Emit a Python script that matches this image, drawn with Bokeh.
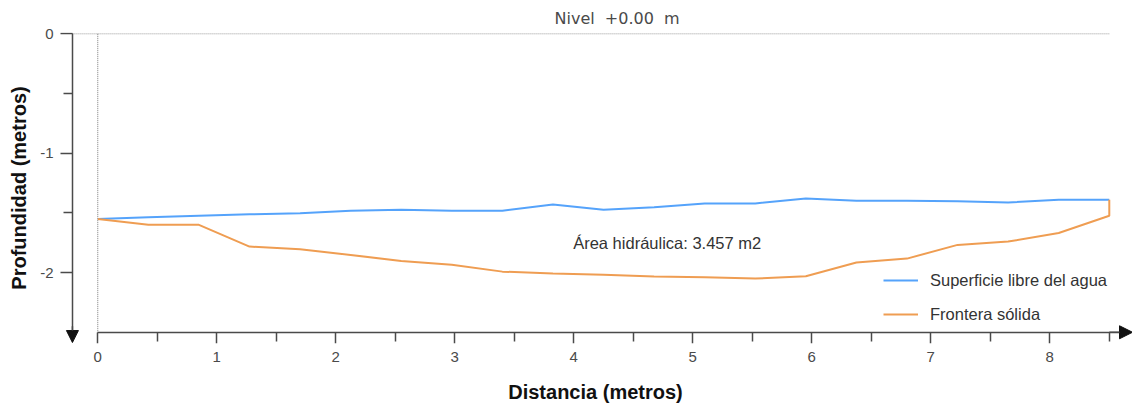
from bokeh.plotting import figure
from bokeh.models import (Range1d, FixedTicker, Arrow, NormalHead,
                          Legend, LegendItem, Title, PrintfTickFormatter, LinearAxis,
                          CustomJSTickFormatter)
from bokeh.core.properties import value
from bokeh.embed import file_html
from bokeh.resources import INLINE

# ---- data ----
distancia = [0.0, 0.425, 0.85, 1.275, 1.7, 2.125, 2.55, 2.975, 3.4, 3.825, 4.25,
             4.675, 5.1, 5.525, 5.95, 6.375, 6.8, 7.225, 7.65, 8.075, 8.5]
superficie = [-1.552, -1.537, -1.524, -1.512, -1.502, -1.482, -1.474, -1.482, -1.482, -1.430, -1.474,
              -1.453, -1.421, -1.421, -1.379, -1.398, -1.398, -1.403, -1.413, -1.390, -1.390]
frontera_x = distancia + [8.5]
frontera = [-1.552, -1.600, -1.600, -1.782, -1.804, -1.852, -1.902, -1.935, -1.992, -2.008, -2.019,
            -2.032, -2.040, -2.050, -2.030, -1.916, -1.883, -1.768, -1.740, -1.669, -1.524, -1.390]
x_major = [0, 1, 2, 3, 4, 5, 6, 7, 8]
x_minor = [0.5, 1.5, 2.5, 3.5, 4.5, 5.5, 6.5, 7.5, 8.5]
y_major = [0, -1, -2]
y_minor = [-0.5, -1.5]
series_names = ["Superficie libre del agua", "Frontera sólida"]
area_text = "Área hidráulica: 3.457 m2"
nivel_text = "Nivel\u00a0\u00a0+0.00\u00a0\u00a0m"
x_title = "Distancia (metros)"
y_title = "Profundidad (metros)"

FONT = "Liberation Sans"
AX = "#4a4a4a"
X0, X1 = -0.330, 8.695
Y0, Y1 = -2.594, 0.011
YAX_X = -0.213   # where the vertical axis stands
XAX_Y = -2.5     # where the horizontal axis stands

p = figure(width=1132, height=407, output_backend="svg", toolbar_location=None,
           x_range=Range1d(X0, X1), y_range=Range1d(Y0, Y1),
           min_border_left=58, min_border_right=0, min_border_top=32, min_border_bottom=64)
p.outline_line_color = None
p.xgrid.grid_line_color = None
p.ygrid.grid_line_color = None
p.background_fill_color = "white"
p.border_fill_color = "white"

p.add_layout(Title(text=nivel_text, align="left", offset=496, standoff=9,
                   text_font="DejaVu Sans", text_font_size="16px", text_font_style="normal",
                   text_color="#4a4a4a"), "above")

# reference dotted lines
p.line(x=[YAX_X, 8.5], y=[0, 0], line_color="#9a9a9a", line_width=1, line_dash="1 1")
p.line(x=[0, 0], y=[0, XAX_Y], line_color="#7a7a7a", line_width=1, line_dash="1 1")

r1 = p.line(x=distancia, y=superficie, line_color="#55a3fb", line_width=2)
r2 = p.line(x=frontera_x, y=frontera, line_color="#ef9d52", line_width=2)

p.text(x=[4.785], y=[-1.756], text=[area_text], text_font=value(FONT),
       text_font_size=value("16.5px"), text_color="#333333",
       text_align="center", text_baseline="middle")

# ---- axis lines + ticks (fixed inside the frame) ----
blank = CustomJSTickFormatter(code="return ''")
xline = LinearAxis(fixed_location=XAX_Y, bounds=(0, 8.6),
                   ticker=FixedTicker(ticks=x_major, minor_ticks=x_minor), formatter=blank,
                   major_tick_out=11, minor_tick_out=9)
yline = LinearAxis(fixed_location=YAX_X, bounds=(XAX_Y, 0),
                   ticker=FixedTicker(ticks=y_major, minor_ticks=y_minor), formatter=blank,
                   major_tick_out=12, minor_tick_out=9)
for ax in (xline, yline):
    ax.axis_line_color = AX
    ax.axis_line_width = 1.5
    ax.major_tick_line_color = AX
    ax.minor_tick_line_color = AX
    ax.major_tick_line_width = 1.5
    ax.minor_tick_line_width = 1.5
    ax.major_tick_in = 0
    ax.minor_tick_in = 0
p.add_layout(xline, "below")
p.add_layout(yline, "left")

# ---- tick labels + titles (at the frame edges) ----
xa = p.xaxis[0]
xa.ticker = FixedTicker(ticks=x_major)
xa.axis_label = x_title
ya = p.yaxis[0]
ya.ticker = FixedTicker(ticks=y_major)
ya.formatter = PrintfTickFormatter(format="%d")
ya.axis_label = y_title
for ax in (xa, ya):
    ax.axis_line_color = None
    ax.major_tick_line_color = None
    ax.minor_tick_line_color = None
    ax.major_tick_out = 0
    ax.minor_tick_out = 0
    ax.major_tick_in = 0
    ax.minor_tick_in = 0
    ax.major_label_text_font = FONT
    ax.major_label_text_font_size = "15px"
    ax.major_label_text_color = "#4a4a4a"
    ax.axis_label_text_font = FONT
    ax.axis_label_text_font_style = "bold"
    ax.axis_label_text_font_size = "20px"
    ax.axis_label_text_color = "#111111"
xa.major_label_standoff = 8
xa.axis_label_standoff = 16
ya.major_label_standoff = 5
ya.axis_label_standoff = 7

# arrow heads for axes
p.add_layout(Arrow(x_start=8.5, y_start=XAX_Y, x_end=X1, y_end=XAX_Y,
                   line_color=AX, line_width=1.5,
                   end=NormalHead(size=13, fill_color="#111111", line_color="#111111")))
p.add_layout(Arrow(x_start=YAX_X, y_start=-2.45, x_end=YAX_X, y_end=-2.586,
                   line_color=AX, line_width=1.5,
                   end=NormalHead(size=12, fill_color="#111111", line_color="#111111")))

legend = Legend(items=[LegendItem(label=series_names[0], renderers=[r1]),
                       LegendItem(label=series_names[1], renderers=[r2])],
                location=(825, 19), border_line_alpha=0, background_fill_alpha=0,
                padding=0, margin=0, spacing=14, glyph_width=35, glyph_height=20,
                label_height=20, label_standoff=12, label_text_font=FONT,
                label_text_font_size="16.5px", label_text_color="#333333")
p.add_layout(legend)

open("out.html", "w").write(file_html(p, INLINE))
